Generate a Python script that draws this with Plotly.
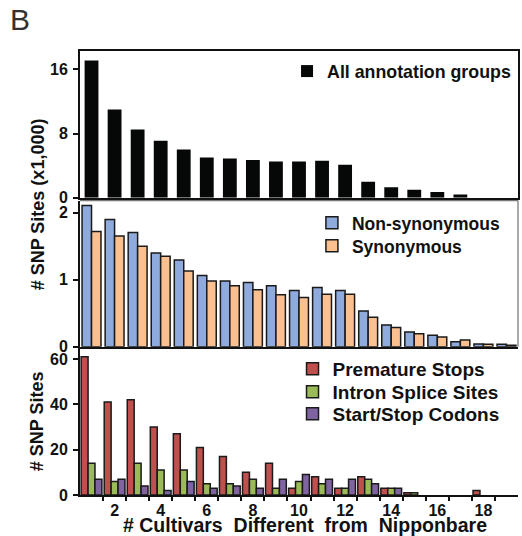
import plotly.graph_objects as go

cultivars = list(range(1, 20))

# Panel 1: all annotation groups (x1,000 SNP sites)
all_groups = [17.1, 11.0, 8.5, 7.1, 6.0, 5.0, 4.9, 4.7, 4.5, 4.5, 4.6, 4.1,
              2.0, 1.3, 1.0, 0.7, 0.4, None, None]

# Panel 2 (x1,000 SNP sites)
non_synonymous = [2.11, 1.90, 1.705, 1.40, 1.295, 1.065, 0.98, 0.96, 0.91, 0.84,
                  0.885, 0.84, 0.535, 0.325, 0.22, 0.17, 0.075, 0.04, 0.035]
synonymous = [1.72, 1.655, 1.50, 1.35, 1.13, 0.98, 0.91, 0.85, 0.775, 0.735,
              0.785, 0.785, 0.44, 0.285, 0.195, 0.145, 0.10, 0.035, 0.02]

# Panel 3 (SNP sites)
premature_stops = [61, 41, 42, 30, 27, 21, 17, 10, 14, 3, 8, 3, 8, 3, 1, None, None, 2, None]
intron_splice = [14, 6, 14, 11, 11, 5, 5, 7, 3, 6, 5, 3, 7, 3, 1, None, None, None, None]
start_stop = [7, 7, 4, 2, 6, 3, 4, 3, 7, 9, 7, 7, 5, 3, None, None, None, None, None]

x_tick_labels = [2, 4, 6, 8, 10, 12, 14, 16, 18]
x_minor_ticks = [i + 0.5 for i in range(1, 19)]

FONT = "Liberation Sans, Arial, sans-serif"
OUT = "#1a1a1a"

fig = go.Figure()

fig.add_trace(go.Bar(x=cultivars, y=all_groups, name="All annotation groups",
                     marker=dict(color="#060808", line=dict(width=0)),
                     width=0.6, offset=-0.3, xaxis="x", yaxis="y", legend="legend"))

fig.add_trace(go.Bar(x=cultivars, y=non_synonymous, name="Non-synonymous",
                     marker=dict(color="#8FAADC", line=dict(width=1.5, color=OUT)),
                     width=0.41, offset=-0.41, xaxis="x2", yaxis="y2", legend="legend2"))
fig.add_trace(go.Bar(x=cultivars, y=synonymous, name="Synonymous",
                     marker=dict(color="#FAC090", line=dict(width=1.5, color=OUT)),
                     width=0.41, offset=0.0, xaxis="x2", yaxis="y2", legend="legend3"))

fig.add_trace(go.Bar(x=cultivars, y=premature_stops, name="Premature Stops",
                     marker=dict(color="#C0504D", line=dict(width=1.5, color=OUT)),
                     width=0.3, offset=-0.45, xaxis="x3", yaxis="y3", legend="legend4"))
fig.add_trace(go.Bar(x=cultivars, y=intron_splice, name="Intron Splice Sites",
                     marker=dict(color="#9BBB59", line=dict(width=1.5, color=OUT)),
                     width=0.3, offset=-0.15, xaxis="x3", yaxis="y3", legend="legend5"))
fig.add_trace(go.Bar(x=cultivars, y=start_stop, name="Start/Stop Codons",
                     marker=dict(color="#8064A2", line=dict(width=1.5, color=OUT)),
                     width=0.3, offset=0.15, xaxis="x3", yaxis="y3", legend="legend6"))

tickfont = dict(family=FONT, size=16, color="#111", weight="bold")
xr = [0.5, 19.5]

common_y = dict(showgrid=False, zeroline=False, showline=True, linecolor="#111",
                linewidth=2, ticks="outside", ticklen=5, tickwidth=1.5,
                tickcolor="#111", tickfont=tickfont, ticklabelstandoff=2)


def lg(x, y, size):
    return dict(x=x, y=y, xanchor="left", yanchor="top", bgcolor="rgba(0,0,0,0)",
                font=dict(family=FONT, size=size, color="#111", weight="bold"))


fig.update_layout(
    width=522, height=536,
    margin=dict(l=80, r=2, t=51, b=41),
    paper_bgcolor="white", plot_bgcolor="white",
    barmode="overlay",
    xaxis=dict(domain=[0, 1], range=xr, anchor="y", showticklabels=False,
               showgrid=False, zeroline=False, showline=True, linecolor="#111",
               linewidth=2, mirror=True, ticks=""),
    yaxis=dict(domain=[0.6696, 1.0], range=[0, 18.3], anchor="x",
               tickvals=[0, 8, 16], mirror=True, **common_y),
    xaxis2=dict(domain=[0, 1], range=xr, anchor="y2", showticklabels=False,
                showgrid=False, zeroline=False, showline=True, linecolor="#111",
                linewidth=2, ticks=""),
    yaxis2=dict(domain=[0.334, 0.6628], range=[0, 2.18], anchor="x2",
                tickvals=[0, 1, 2], **common_y),
    xaxis3=dict(domain=[0, 1], range=xr, anchor="y3", showgrid=False,
                zeroline=False, showline=True, linecolor="#111", linewidth=2,
                tickvals=x_tick_labels, ticktext=[str(v) for v in x_tick_labels],
                ticks="", tickfont=tickfont,
                minor=dict(tickmode="array", tickvals=x_minor_ticks, ticks="outside",
                           ticklen=4, tickwidth=1.5, tickcolor="#111", showgrid=False)),
    yaxis3=dict(domain=[0.0, 0.331], range=[0, 64.8], anchor="x3",
                tickvals=[0, 20, 40, 60], **common_y),
    legend=lg(0.4727, 0.9955, 17.8),
    legend2=lg(0.5295, 0.6532, 17.5),
    legend3=lg(0.5295, 0.6014, 17.5),
    legend4=lg(0.4852, 0.3266, 19),
    legend5=lg(0.4852, 0.2748, 19),
    legend6=lg(0.4852, 0.2252, 19),
    showlegend=True,
)

# thin frame on the top/right of the middle panel
fig.add_shape(type="line", xref="x2 domain", yref="y2 domain", x0=0, x1=1, y0=1, y1=1,
              line=dict(color="#555", width=1))
fig.add_shape(type="line", xref="x2 domain", yref="y2 domain", x0=1, x1=1, y0=0, y1=1,
              line=dict(color="#555", width=1))

ann_font = dict(family=FONT, size=18, color="#111", weight="bold")
fig.add_annotation(text="# SNP Sites (x1,000)", xref="paper", yref="paper",
                   x=-0.0955, y=0.655, xanchor="center", yanchor="middle",
                   textangle=-90, showarrow=False, font=ann_font)
fig.add_annotation(text="# SNP Sites", xref="paper", yref="paper",
                   x=-0.0977, y=0.1667, xanchor="center", yanchor="middle",
                   textangle=-90, showarrow=False, font=ann_font)
fig.add_annotation(text="# Cultivars\u00a0 Different\u00a0 from\u00a0 Nipponbare",
                   xref="paper", yref="paper", x=0.5136, y=-0.068,
                   xanchor="center", yanchor="middle", showarrow=False,
                   font=dict(family=FONT, size=19.5, color="#111", weight="bold"))
fig.add_annotation(text="B", xref="paper", yref="paper", x=-0.165, y=1.112,
                   xanchor="left", yanchor="top", showarrow=False,
                   font=dict(family=FONT, size=30, color="#333"))

fig.write_html("out.html", config={"displayModeBar": False},
               post_script="document.body.style.margin='0';document.body.style.padding='0';")
